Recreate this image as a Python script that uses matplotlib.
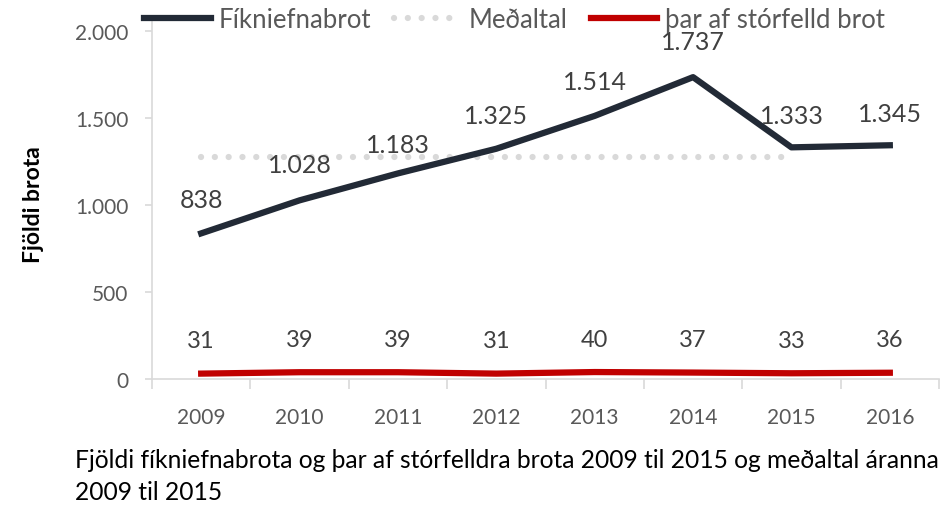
import matplotlib.pyplot as plt
import numpy as np

plt.rcParams['font.family'] = ['Lato', 'DejaVu Sans']

# Gögn
ar = ['2009', '2010', '2011', '2012', '2013', '2014', '2015', '2016']
fikniefnabrot = [838, 1028, 1183, 1325, 1514, 1737, 1333, 1345]
medaltal = [1280, 1280, 1280, 1280, 1280, 1280, 1280]
storfelld = [31, 39, 39, 31, 40, 37, 33, 36]

# hæð merkja yfir punkti (px)
merki_dy = [34, 36, 29, 33, 34, 36, 32, 32]

DOKK = '#222A36'
RAUD = '#C00000'
GRAR = '#D9D9D9'
TEXTI = '#404040'

fig = plt.figure(figsize=(9.52, 5.10), dpi=100)
ax = fig.add_axes([152 / 952, 130 / 510, (939 - 152) / 952, (380 - 22) / 510])

x = np.arange(len(ar))
ax.plot(x, fikniefnabrot, color=DOKK, lw=4.5, label='Fíkniefnabrot', zorder=3)
ax.plot(x[:len(medaltal)], medaltal, color=GRAR, lw=4.5, linestyle=(0, (0.01, 2.2)),
        dash_capstyle='round', label='Meðaltal', zorder=2)
ax.plot(x, storfelld, color=RAUD, lw=4.5, label='þar af stórfelld brot', zorder=3)

px = 0.72
for i, v in enumerate(fikniefnabrot):
    ax.annotate(f'{v:,}'.replace(',', '.'), (x[i], v),
                xytext=(0, merki_dy[i] * px), textcoords='offset points',
                ha='center', va='center', fontsize=18, color=TEXTI, zorder=4)
for i, v in enumerate(storfelld):
    ax.annotate(str(v), (x[i], v), xytext=(0, 33 * px), textcoords='offset points',
                ha='center', va='center', fontsize=17, color=TEXTI)

ax.set_xlim(-0.5, len(ar) - 0.5)
ax.set_ylim(0, 2060)
ax.set_yticks([0, 500, 1000, 1500, 2000])
ax.set_yticklabels(['0', '500', '1.000', '1.500', '2.000'])
ax.set_xticks(x)
ax.set_xticklabels(ar)
ax.set_xticks(np.arange(-0.5, len(ar)), minor=True)
ax.tick_params(axis='x', which='major', length=0, pad=20, labelsize=15, labelcolor='#595959')
ax.tick_params(axis='x', which='minor', length=7, color=GRAR, width=1.2)
ax.tick_params(axis='y', length=5, color=GRAR, width=1.2, pad=12, labelsize=15,
               labelcolor='#595959')

for s in ['top', 'right']:
    ax.spines[s].set_visible(False)
for s in ['left', 'bottom']:
    ax.spines[s].set_color(GRAR)
    ax.spines[s].set_linewidth(1.2)

ax.set_ylabel('Fjöldi brota', fontsize=16.5, fontweight='bold', color='black',
              va='center')
ax.yaxis.set_label_coords((33 - 152) / 787, (380 - 205) / 358)

ax.legend(loc='upper left', bbox_to_anchor=(131 / 952, 1.01), bbox_transform=fig.transFigure,
          ncol=3, frameon=False, fontsize=18.5, handlelength=2.6, handletextpad=0.3,
          columnspacing=0.9, labelcolor='#595959', borderaxespad=0.1)

fig.text(75 / 952, 1 - 461 / 510, 'Fjöldi fíkniefnabrota og þar af stórfelldra brota 2009 til 2015 og meðaltal áranna',
         fontsize=17.7, va='center', ha='left', color='black')
fig.text(75 / 952, 1 - 493 / 510, '2009 til 2015', fontsize=17.7, va='center', ha='left',
         color='black')

fig.savefig('out.png', dpi=100)
